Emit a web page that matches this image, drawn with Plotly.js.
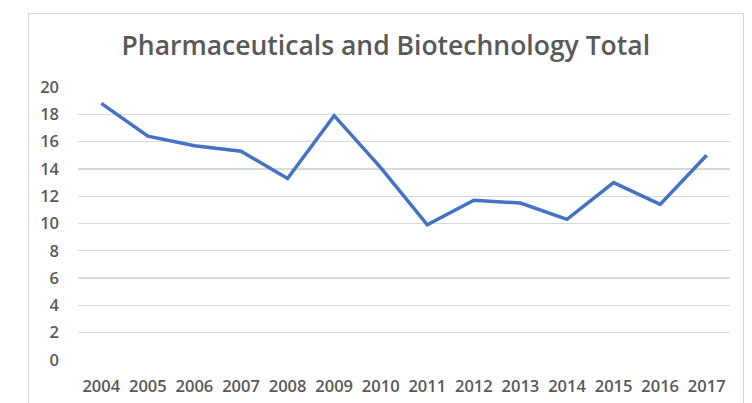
<!DOCTYPE html>
<html>
<head>
<meta charset="utf-8">
<script src="https://cdn.plot.ly/plotly-3.0.1.min.js"></script>
<style>
html,body{margin:0;padding:0;background:#fff;}
#wrap{position:relative;width:752px;height:403px;overflow:hidden;}
#chart{position:absolute;left:0;top:0;width:752px;height:403px;}
#frame{position:absolute;left:28px;top:13px;width:714px;height:420px;border:1.5px solid #d9d9d9;pointer-events:none;}
</style>
</head>
<body>
<div id="wrap">
<div id="chart"></div>
<div id="frame"></div>
</div>
<script>
const years = ['2004','2005','2006','2007','2008','2009','2010','2011','2012','2013','2014','2015','2016','2017'];
const totals = [18.8, 16.4, 15.7, 15.3, 13.3, 17.9, 14.1, 9.9, 11.7, 11.5, 10.3, 13.0, 11.4, 15.0];
const yTicks = [0, 2, 4, 6, 8, 10, 12, 14, 16, 18, 20];
const chartTitle = 'Pharmaceuticals and Biotechnology Total';

const tickFont = {family: '"Open Sans", sans-serif', size: 16.5, color: '#595959', weight: 600};

Plotly.newPlot('chart', [{
  x: years,
  y: totals,
  type: 'scatter',
  mode: 'lines',
  line: {color: '#4472C4', width: 3.5},
  hoverinfo: 'skip'
}], {
  width: 752,
  height: 403,
  paper_bgcolor: 'rgba(0,0,0,0)',
  plot_bgcolor: 'rgba(0,0,0,0)',
  margin: {l: 78, r: 22, t: 87, b: 43},
  showlegend: false,
  title: {
    text: chartTitle,
    font: {family: '"Open Sans", sans-serif', size: 26.5, color: '#595959', weight: 600},
    xref: 'container', x: 0.513, xanchor: 'center',
    yref: 'container', y: 0.886, yanchor: 'middle'
  },
  xaxis: {
    type: 'category',
    range: [-0.5, 13.5],
    showgrid: false,
    showline: false,
    zeroline: false,
    ticks: '',
    ticklabelstandoff: 14,
    tickfont: tickFont
  },
  yaxis: {
    range: [0, 20],
    tickvals: yTicks,
    showgrid: true,
    gridcolor: '#d9d9d9',
    gridwidth: 1.3,
    zeroline: false,
    showline: false,
    ticks: '',
    ticklabelstandoff: 18,
    tickfont: tickFont
  }
}, {staticPlot: true});
</script>
</body>
</html>
